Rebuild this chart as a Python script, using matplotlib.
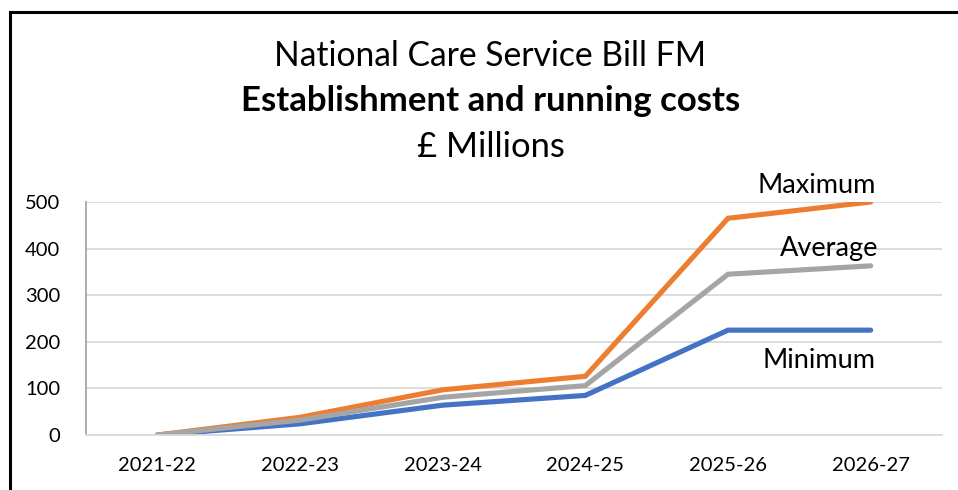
import matplotlib.pyplot as plt
from matplotlib.patches import Rectangle

plt.rcParams['font.family'] = ['Lato', 'DejaVu Sans']

# data (£ millions)
years = ['2021-22', '2022-23', '2023-24', '2024-25', '2025-26', '2026-27']
minimum = [0, 24, 64, 85, 225, 225]
maximum = [0, 38, 97, 126, 465, 500]
average = [0, 32, 81, 106, 345, 363]

fig = plt.figure(figsize=(9.58, 4.90), dpi=100)
ax = fig.add_axes([0.0898, 0.1122, 0.8935, 0.4756])

x = range(len(years))
# blue first, gray ends up on top as in the reference
ax.plot(x, minimum, color='#4472C4', lw=3.7, solid_capstyle='round', solid_joinstyle='miter')
ax.plot(x, maximum, color='#ED7D31', lw=3.7, solid_capstyle='round', solid_joinstyle='miter')
ax.plot(x, average, color='#A5A5A5', lw=3.7, solid_capstyle='round', solid_joinstyle='miter')

ax.set_xlim(-0.5, 5.5)
ax.set_ylim(0, 500)
ax.set_yticks([0, 100, 200, 300, 400, 500])
ax.set_xticks(list(x))
ax.set_xticklabels(years)
ax.tick_params(length=0, labelsize=14.5)
ax.tick_params(axis='y', pad=18.5)
ax.tick_params(axis='x', pad=16)
ax.grid(axis='y', color='#d9d9d9', lw=1.3)
ax.set_axisbelow(True)
for s in ['top', 'right']:
    ax.spines[s].set_visible(False)
ax.spines['bottom'].set_color('#d9d9d9')
ax.spines['bottom'].set_linewidth(1.3)
ax.spines['left'].set_color('#a6a6a6')
ax.spines['left'].set_linewidth(1.3)

# series names next to the lines
ax.text(4.62, 536, 'Maximum', ha='center', va='center', fontsize=19.5, clip_on=False)
ax.text(4.71, 401, 'Average', ha='center', va='center', fontsize=19.5)
ax.text(4.64, 159, 'Minimum', ha='center', va='center', fontsize=19.5)

# three-line title
fig.text(0.512, 0.885, 'National Care Service Bill FM', ha='center', va='center', fontsize=24.2)
fig.text(0.512, 0.794, 'Establishment and running costs', ha='center', va='center',
         fontsize=25, fontweight='bold')
fig.text(0.512, 0.700, '£ Millions', ha='center', va='center', fontsize=24.8)

# black frame (only top and left edges are visible in the crop)
fig.patches.append(Rectangle((9.5 / 958, -0.1), 1.2, 1.1 - 12.5 / 490, transform=fig.transFigure,
                             fill=False, edgecolor='black', lw=2.2))

fig.savefig('out.png', dpi=100)
